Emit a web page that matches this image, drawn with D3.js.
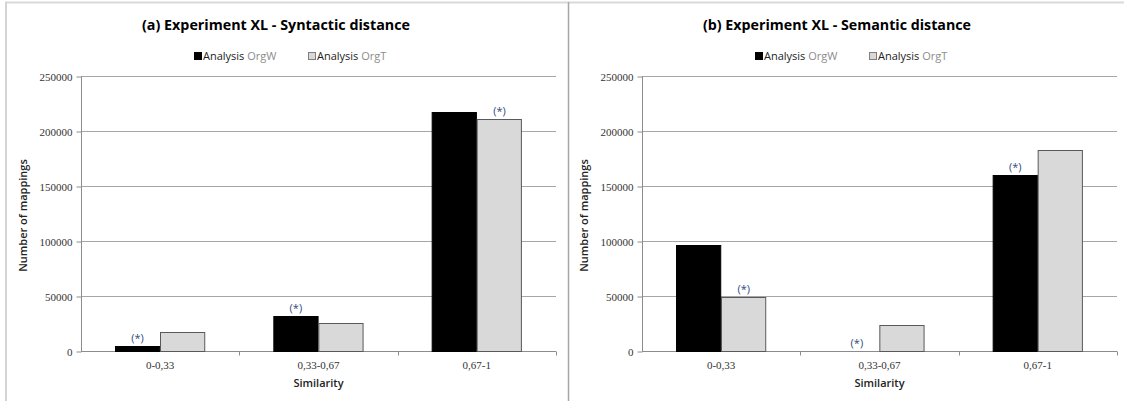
<!DOCTYPE html>
<html>
<head>
<meta charset="utf-8">
<script src="https://cdn.jsdelivr.net/npm/d3@7"></script>
<style>
  html, body { margin: 0; padding: 0; background: #fff; }
  svg { display: block; }
</style>
</head>
<body>
<svg id="chart" width="1124" height="401"></svg>
<script>
// Similarity bins on the x axis
const categories = ["0-0,33", "0,33-0,67", "0,67-1"];
const seriesNames = ["OrgW", "OrgT"];
const yTicks = [0, 50000, 100000, 150000, 200000, 250000];

// (a) syntactic distance: number of mappings per bin
const syntacticOrgW = [4500, 31800, 217300];
const syntacticOrgT = [17600, 25200, 210600];
// series flagged with (*) in each bin
const syntacticMarked = ["OrgW", "OrgW", "OrgT"];

// (b) semantic distance
const semanticOrgW = [96400, 0, 160000];
const semanticOrgT = [49000, 23400, 182700];
const semanticMarked = ["OrgT", "OrgW", "OrgW"];

const panels = [
  { title: "(a) Experiment XL - Syntactic distance", orgW: syntacticOrgW, orgT: syntacticOrgT, marked: syntacticMarked, left: 0 },
  { title: "(b) Experiment XL - Semantic distance",  orgW: semanticOrgW,  orgT: semanticOrgT,  marked: semanticMarked,  left: 561 }
];

const svg = d3.select("#chart");
const sans = "'Open Sans', 'Noto Sans', sans-serif";
const serif = "'Liberation Serif', 'DejaVu Serif', serif";
const fill = { OrgW: "#000000", OrgT: "#d9d9d9" };
const stroke = { OrgW: "#000000", OrgT: "#595959" };

// outer frame lines
svg.append("line").attr("x1", 5).attr("x2", 1124).attr("y1", 2.5).attr("y2", 2.5)
  .attr("stroke", "#d9d9d9").attr("stroke-width", 2);
svg.append("line").attr("x1", 6).attr("x2", 6).attr("y1", 2).attr("y2", 401)
  .attr("stroke", "#d4d4d4").attr("stroke-width", 2);
svg.append("line").attr("x1", 568.5).attr("x2", 568.5).attr("y1", 2).attr("y2", 401)
  .attr("stroke", "#a6a6a6").attr("stroke-width", 1.5);

panels.forEach(p => {
  const g = svg.append("g").attr("transform", `translate(${p.left},0)`);
  const plotL = 81, plotR = 556, plotT = 76, plotB = 351;

  const y = d3.scaleLinear().domain([0, 250000]).range([plotB, plotT]);
  const x0 = d3.scaleBand().domain(categories).range([plotL, plotR]).padding(0);
  const x1 = d3.scaleBand().domain(seriesNames).range([0, x0.bandwidth()])
    .paddingInner(0).paddingOuter(0.75);

  // title
  g.append("text")
    .attr("x", 276).attr("y", 30)
    .attr("text-anchor", "middle")
    .attr("font-family", sans).attr("font-weight", "bold").attr("font-size", 15)
    .attr("textLength", 268).attr("lengthAdjust", "spacingAndGlyphs")
    .attr("fill", "#000")
    .text(p.title);

  // legend
  const legend = g.append("g").attr("transform", "translate(194,0)");
  seriesNames.forEach((s, i) => {
    const lg = legend.append("g").attr("transform", `translate(${i * 114},0)`);
    lg.append("rect").attr("x", 0.5).attr("y", 52.5).attr("width", 7).attr("height", 7)
      .attr("fill", fill[s]).attr("stroke", s === "OrgT" ? "#7f7f7f" : "#000");
    const t = lg.append("text").attr("x", 9).attr("y", 60)
      .attr("font-family", sans).attr("font-size", 11);
    t.append("tspan").attr("fill", "#222").text("Analysis ");
    t.append("tspan").attr("fill", "#8c8c8c").text(s);
  });

  // gridlines
  g.append("g").selectAll("line").data(yTicks.filter(d => d > 0)).join("line")
    .attr("x1", plotL).attr("x2", plotR)
    .attr("y1", d => Math.round(y(d)) + 0.5).attr("y2", d => Math.round(y(d)) + 0.5)
    .attr("stroke", "#a6a6a6");

  // y axis
  const yAxis = g.append("g").attr("transform", `translate(${plotL + 0.5},0.5)`)
    .call(d3.axisLeft(y).tickValues(yTicks).tickFormat(d3.format("d")).tickSize(5).tickPadding(4));
  yAxis.select(".domain").attr("stroke", "#8c8c8c").attr("d", `M0,${plotT}V${plotB}`);
  yAxis.selectAll(".tick line").attr("stroke", "#8c8c8c");
  yAxis.selectAll(".tick text").attr("font-family", serif).attr("font-size", 11).attr("fill", "#333");

  // x axis
  const xAxis = g.append("g").attr("transform", `translate(0,${plotB + 0.5})`);
  xAxis.append("line").attr("x1", plotL).attr("x2", plotR).attr("stroke", "#8c8c8c");
  xAxis.selectAll(".sep").data(categories).join("line").attr("class", "sep")
    .attr("x1", d => Math.round(x0(d) + x0.bandwidth()) + 0.5)
    .attr("x2", d => Math.round(x0(d) + x0.bandwidth()) + 0.5)
    .attr("y1", 0).attr("y2", 4).attr("stroke", "#8c8c8c");
  xAxis.selectAll(".lab").data(categories).join("text").attr("class", "lab")
    .attr("x", d => x0(d) + x0.bandwidth() / 2).attr("y", 17)
    .attr("text-anchor", "middle")
    .attr("font-family", serif).attr("font-size", 11).attr("fill", "#333")
    .text(d => d);

  // axis titles
  g.append("text")
    .attr("transform", `translate(27,${(plotT + plotB) / 2 + 2}) rotate(-90)`)
    .attr("text-anchor", "middle")
    .attr("font-family", sans).attr("font-size", 11).attr("font-weight", 600).attr("fill", "#222")
    .text("Number of mappings");
  g.append("text")
    .attr("x", (plotL + plotR) / 2).attr("y", 387)
    .attr("text-anchor", "middle")
    .attr("font-family", sans).attr("font-size", 11).attr("font-weight", 600).attr("fill", "#222")
    .text("Similarity");

  // bars
  const rows = categories.map((c, i) => ({
    cat: c,
    values: [{ s: "OrgW", v: p.orgW[i] }, { s: "OrgT", v: p.orgT[i] }],
    marked: p.marked[i]
  }));
  const groups = g.append("g").selectAll("g").data(rows).join("g")
    .attr("transform", d => `translate(${x0(d.cat)},0)`);
  groups.selectAll("rect").data(d => d.values.filter(v => v.v > 0)).join("rect")
    .attr("x", d => Math.round(x1(d.s)) + 0.5)
    .attr("y", d => Math.round(y(d.v)) + 0.5)
    .attr("width", x1.bandwidth() - 1)
    .attr("height", d => Math.round(y(0)) - Math.round(y(d.v)))
    .attr("fill", d => fill[d.s])
    .attr("stroke", d => stroke[d.s]);

  // significance markers
  groups.append("text")
    .attr("x", d => x1(d.marked) + x1.bandwidth() / 2)
    .attr("y", d => y(d.values.find(v => v.s === d.marked).v) - 4)
    .attr("text-anchor", "middle")
    .attr("font-family", sans).attr("font-size", 11).attr("fill", "#2f4b7c")
    .text("(*)");
});
</script>
</body>
</html>
